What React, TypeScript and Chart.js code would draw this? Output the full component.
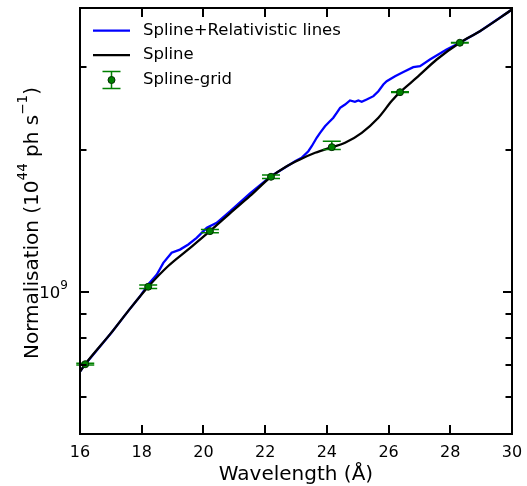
import React, { useEffect, useRef } from "react";
import { Chart, registerables } from "chart.js";

Chart.register(...registerables);

// ---- data (wavelength in Å, normalisation) ----
const splineWavelength = [
  16.0, 16.17, 17.01, 17.56, 18.21, 18.85, 19.5, 20.21, 20.86, 21.51, 22.19,
  22.7, 23.13, 23.62, 24.16, 24.59, 25.13, 25.67, 26.1, 26.37, 26.91, 27.56, 28.31,
  28.96, 30.0,
];
const splineNorm = [
  6.78e8, 7.03e8, 8.19e8, 9.11e8, 1.026e9, 1.134e9, 1.23e9, 1.346e9, 1.468e9,
  1.598e9, 1.755e9, 1.848e9, 1.91e9, 1.973e9, 2.028e9, 2.072e9, 2.175e9, 2.341e9,
  2.539e9, 2.652e9, 2.846e9, 3.111e9, 3.376e9, 3.572e9, 3.97e9,
];

const relWavelength = [
  16.0, 16.17, 17.01, 17.56, 17.94, 18.21, 18.49, 18.7, 18.97, 19.24, 19.51, 19.78,
  20.11, 20.43, 20.86, 21.51, 22.19, 22.97, 23.18, 23.4, 23.51, 23.67, 23.78, 23.94,
  24.05, 24.21, 24.32, 24.43, 24.59, 24.75, 24.91, 25.02, 25.13, 25.29, 25.51, 25.67,
  25.83, 25.94, 26.21, 26.48, 26.8, 27.02, 27.34, 27.88, 28.31, 28.96, 30.0,
];
const relNorm = [
  6.78e8, 7.03e8, 8.19e8, 9.11e8, 9.78e8, 1.037e9, 1.089e9, 1.153e9, 1.211e9, 1.23e9,
  1.261e9, 1.303e9, 1.368e9, 1.402e9, 1.482e9, 1.618e9, 1.76e9, 1.894e9, 1.925e9,
  1.988e9, 2.037e9, 2.123e9, 2.175e9, 2.246e9, 2.284e9, 2.341e9, 2.398e9, 2.458e9,
  2.497e9, 2.547e9, 2.531e9, 2.547e9, 2.531e9, 2.559e9, 2.601e9, 2.665e9, 2.754e9,
  2.798e9, 2.868e9, 2.927e9, 2.997e9, 3.011e9, 3.111e9, 3.267e9, 3.376e9, 3.572e9,
  3.97e9,
];

const gridWavelength = [16.17, 18.21, 20.21, 22.19, 24.16, 26.37, 28.31];
const gridNorm = [7.03e8, 1.026e9, 1.346e9, 1.755e9, 2.028e9, 2.652e9, 3.376e9];
const gridErrPlus = [0.003e9, 0.0085e9, 0.011e9, 0.0145e9, 0.06e9, 0.005e9, 0.006e9];
const gridErrMinus = [0.003e9, 0.0085e9, 0.011e9, 0.0145e9, 0.023e9, 0.005e9, 0.006e9];

const xTickValues = [16, 18, 20, 22, 24, 26, 28, 30];
const yMajorTicks = [1e9];
const yMajorBase = ["10"];
const yMajorExp = ["9"];
const yMinorTicks = [6e8, 7e8, 8e8, 9e8, 2e9, 3e9];

const seriesLabels = ["Spline+Relativistic lines", "Spline", "Spline-grid"];
const xTitle = "Wavelength (Å)";
// y title pieces: [text, isSuperscript]
const yTitleParts: [string, boolean][] = [
  ["Normalisation (10", false],
  ["44", true],
  [" ph s", false],
  ["−1", true],
  [")", false],
];

// ---- styles ----
const FONT = "'DejaVu Sans', sans-serif";
const BLUE = "#0000ff";
const BLACK = "#000000";
const GREEN = "#008000";

const errorBarPlugin = {
  id: "errorBars",
  beforeDatasetDraw(chart: any, args: any) {
    if (args.index !== 0) return;
    const { ctx } = chart;
    const x = chart.scales.x;
    const y = chart.scales.y;
    ctx.save();
    ctx.strokeStyle = GREEN;
    ctx.lineWidth = 1.5;
    gridWavelength.forEach((w, i) => {
      const px = x.getPixelForValue(w);
      const top = y.getPixelForValue(gridNorm[i] + gridErrPlus[i]);
      const bot = y.getPixelForValue(gridNorm[i] - gridErrMinus[i]);
      ctx.beginPath();
      ctx.moveTo(px, top);
      ctx.lineTo(px, bot);
      ctx.moveTo(px - 9, top);
      ctx.lineTo(px + 9, top);
      ctx.moveTo(px - 9, bot);
      ctx.lineTo(px + 9, bot);
      ctx.stroke();
    });
    ctx.restore();
  },
};

const framePlugin = {
  id: "frame",
  afterDraw(chart: any) {
    const { ctx, chartArea } = chart;
    const { left, right, top, bottom } = chartArea;
    const x = chart.scales.x;
    const y = chart.scales.y;
    ctx.save();
    ctx.strokeStyle = BLACK;
    ctx.lineWidth = 2;
    ctx.lineCap = "butt";
    const major = 9;
    const minor = 6.5;
    ctx.beginPath();
    xTickValues.forEach((v) => {
      const px = Math.round(x.getPixelForValue(v));
      ctx.moveTo(px, bottom);
      ctx.lineTo(px, bottom - major);
      ctx.moveTo(px, top);
      ctx.lineTo(px, top + major);
    });
    yMajorTicks.forEach((v) => {
      const py = Math.round(y.getPixelForValue(v));
      ctx.moveTo(left, py);
      ctx.lineTo(left + major, py);
      ctx.moveTo(right, py);
      ctx.lineTo(right - major, py);
    });
    yMinorTicks.forEach((v) => {
      const py = Math.round(y.getPixelForValue(v));
      ctx.moveTo(left, py);
      ctx.lineTo(left + minor, py);
      ctx.moveTo(right, py);
      ctx.lineTo(right - minor, py);
    });
    ctx.stroke();
    ctx.strokeRect(left, top, right - left, bottom - top);

    // y major tick labels (10 with superscript exponent)
    ctx.fillStyle = BLACK;
    ctx.textBaseline = "alphabetic";
    ctx.textAlign = "left";
    yMajorTicks.forEach((v, i) => {
      const py = y.getPixelForValue(v);
      ctx.font = `12px ${FONT}`;
      const we = ctx.measureText(yMajorExp[i]).width;
      ctx.font = `16.5px ${FONT}`;
      const wb = ctx.measureText(yMajorBase[i]).width;
      const xr = left - 12;
      ctx.fillText(yMajorBase[i], xr - we - wb, py + 5.5);
      ctx.font = `12px ${FONT}`;
      ctx.fillText(yMajorExp[i], xr - we, py - 3.5);
    });

    // y title with superscripts
    ctx.save();
    const cy = (top + bottom) / 2 + 2;
    ctx.translate(37.5, cy);
    ctx.rotate(-Math.PI / 2);
    const widths = yTitleParts.map(([t, sup]) => {
      ctx.font = sup ? `13.5px ${FONT}` : `20px ${FONT}`;
      return ctx.measureText(t).width;
    });
    const total = widths.reduce((a, b) => a + b, 0);
    let cx = -total / 2;
    yTitleParts.forEach(([t, sup], i) => {
      ctx.font = sup ? `13.5px ${FONT}` : `20px ${FONT}`;
      ctx.fillText(t, cx, sup ? -11 : 0);
      cx += widths[i];
    });
    ctx.restore();

    // legend
    const lx0 = left + 13;
    const lx1 = left + 50;
    const tx = left + 63;
    const rows = [top + 22.7, top + 47.2, top + 72];
    ctx.font = `16.5px ${FONT}`;
    ctx.textBaseline = "middle";
    ctx.textAlign = "left";
    [BLUE, BLACK].forEach((c, i) => {
      ctx.strokeStyle = c;
      ctx.lineWidth = 2.3;
      ctx.beginPath();
      ctx.moveTo(lx0, rows[i]);
      ctx.lineTo(lx1, rows[i]);
      ctx.stroke();
    });
    const gx = (lx0 + lx1) / 2;
    const ry = rows[2];
    ctx.strokeStyle = GREEN;
    ctx.lineWidth = 1.5;
    ctx.beginPath();
    ctx.moveTo(gx, ry - 8.5);
    ctx.lineTo(gx, ry + 8.5);
    ctx.moveTo(gx - 9, ry - 8.5);
    ctx.lineTo(gx + 9, ry - 8.5);
    ctx.moveTo(gx - 9, ry + 8.5);
    ctx.lineTo(gx + 9, ry + 8.5);
    ctx.stroke();
    ctx.beginPath();
    ctx.arc(gx, ry, 3.5, 0, Math.PI * 2);
    ctx.fillStyle = GREEN;
    ctx.fill();
    ctx.strokeStyle = "#003000";
    ctx.lineWidth = 1;
    ctx.stroke();
    ctx.fillStyle = BLACK;
    seriesLabels.forEach((t, i) => ctx.fillText(t, tx, rows[i]));
    ctx.restore();
  },
};

export default function App() {
  const ref = useRef<HTMLCanvasElement | null>(null);

  useEffect(() => {
    document.body.style.margin = "0";
    const canvas = ref.current;
    if (!canvas) return;
    const chart = new Chart(canvas, {
      type: "line",
      data: {
        datasets: [
          {
            label: seriesLabels[2],
            data: gridWavelength.map((w, i) => ({ x: w, y: gridNorm[i] })),
            showLine: false,
            pointRadius: 3.5,
            pointBackgroundColor: GREEN,
            pointBorderColor: "#003000",
            pointBorderWidth: 1,
            order: 0,
          },
          {
            label: seriesLabels[1],
            data: splineWavelength.map((w, i) => ({ x: w, y: splineNorm[i] })),
            borderColor: BLACK,
            borderWidth: 2.3,
            pointRadius: 0,
            cubicInterpolationMode: "monotone",
            order: 1,
          },
          {
            label: seriesLabels[0],
            data: relWavelength.map((w, i) => ({ x: w, y: relNorm[i] })),
            borderColor: BLUE,
            borderWidth: 2.3,
            pointRadius: 0,
            tension: 0,
            order: 2,
          },
        ],
      } as any,
      plugins: [errorBarPlugin, framePlugin],
      options: {
        animation: false,
        responsive: false,
        maintainAspectRatio: false,
        events: [],
        layout: { padding: { left: 0, right: 15, top: 8, bottom: 0 } },
        plugins: { legend: { display: false }, tooltip: { enabled: false } },
        scales: {
          x: {
            type: "linear",
            min: 16,
            max: 30,
            afterFit: (s: any) => {
              s.height = 52;
              s.paddingLeft = 0;
              s.paddingRight = 0;
            },
            grid: { display: false, drawTicks: false },
            border: { display: false },
            ticks: {
              stepSize: 2,
              padding: 9,
              color: BLACK,
              autoSkip: false,
              maxRotation: 0,
              font: { family: FONT, size: 16 },
            },
            title: {
              display: true,
              text: xTitle,
              color: BLACK,
              font: { family: FONT, size: 20 },
              padding: { top: 0, bottom: -1 },
            },
          },
          y: {
            type: "logarithmic",
            min: 5e8,
            max: 4e9,
            afterFit: (s: any) => {
              s.width = 80;
              s.paddingTop = 0;
              s.paddingBottom = 0;
            },
            grid: { display: false, drawTicks: false },
            border: { display: false },
            ticks: {
              display: false,
              autoSkip: false,
            },
            title: { display: false },
          },
        },
      } as any,
    });
    return () => chart.destroy();
  }, []);

  return (
    <div style={{ width: 527, height: 486 }}>
      <canvas ref={ref} width={527} height={486} style={{ display: "block" }} />
    </div>
  );
}
